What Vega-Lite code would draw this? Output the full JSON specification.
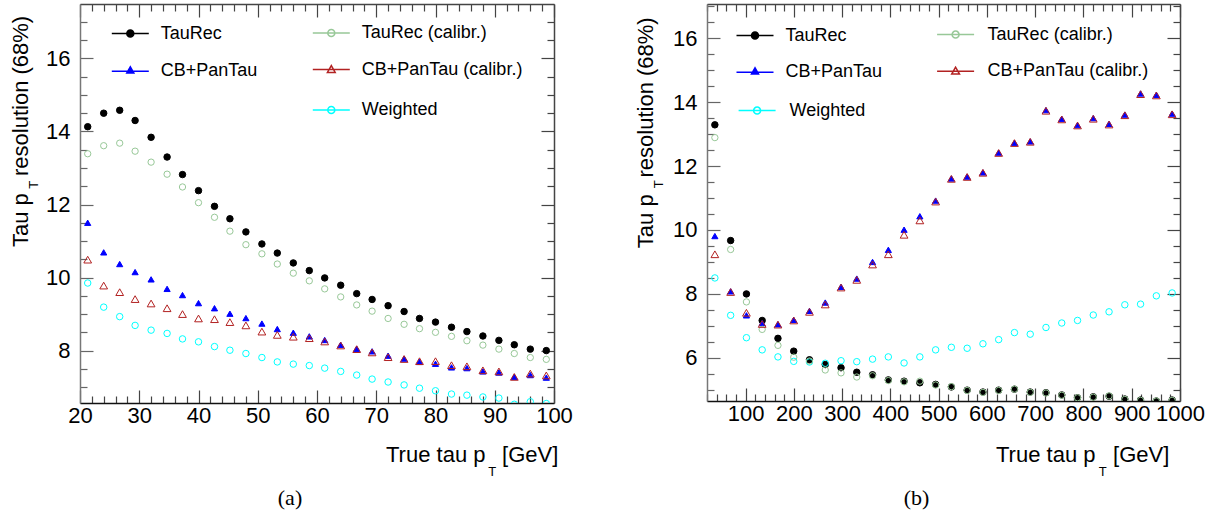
{
  "$schema": "https://vega.github.io/schema/vega-lite/v6.json",
  "background": "white",
  "padding": {"left": 9, "top": 3, "right": 5, "bottom": 5},
  "bounds": "flush",
  "spacing": 153,
  "config": {
    "view": {"stroke": null},
    "font": "Liberation Sans",
    "axis": {
      "grid": false,
      "labelFont": "Liberation Sans",
      "labelColor": "#000",
      "labelFlush": false,
      "labelOverlap": false,
      "labelBound": false,
      "titleFont": "Liberation Sans",
      "titleFontSize": 22,
      "titleFontWeight": "normal",
      "titleColor": "#000",
      "domainWidth": 1.5,
      "tickWidth": 1.2
    },
    "legend": {
      "orient": "none",
      "padding": 0,
      "symbolSize": 1369,
      "labelFont": "Liberation Sans",
      "labelFontSize": 18,
      "labelColor": "#000",
      "labelOffset": 11,
      "labelLimit": 300
    }
  },
  "datasets": {
    "a": [
      {"series": "TauRec", "pt": 21.3, "res": 14.13}, {"series": "TauRec", "pt": 24, "res": 14.5}, {"series": "TauRec", "pt": 26.7, "res": 14.58}, {"series": "TauRec", "pt": 29.3, "res": 14.3}, {"series": "TauRec", "pt": 32, "res": 13.84}, {"series": "TauRec", "pt": 34.7, "res": 13.3}, {"series": "TauRec", "pt": 37.3, "res": 12.82}, {"series": "TauRec", "pt": 40, "res": 12.38}, {"series": "TauRec", "pt": 42.7, "res": 11.95}, {"series": "TauRec", "pt": 45.3, "res": 11.61}, {"series": "TauRec", "pt": 48, "res": 11.25}, {"series": "TauRec", "pt": 50.7, "res": 10.92}, {"series": "TauRec", "pt": 53.3, "res": 10.67}, {"series": "TauRec", "pt": 56, "res": 10.4}, {"series": "TauRec", "pt": 58.7, "res": 10.19}, {"series": "TauRec", "pt": 61.3, "res": 9.99}, {"series": "TauRec", "pt": 64, "res": 9.79}, {"series": "TauRec", "pt": 66.7, "res": 9.56}, {"series": "TauRec", "pt": 69.3, "res": 9.4}, {"series": "TauRec", "pt": 72, "res": 9.23}, {"series": "TauRec", "pt": 74.7, "res": 9.07}, {"series": "TauRec", "pt": 77.3, "res": 8.88}, {"series": "TauRec", "pt": 80, "res": 8.78}, {"series": "TauRec", "pt": 82.7, "res": 8.64}, {"series": "TauRec", "pt": 85.3, "res": 8.52}, {"series": "TauRec", "pt": 88, "res": 8.4}, {"series": "TauRec", "pt": 90.7, "res": 8.28}, {"series": "TauRec", "pt": 93.3, "res": 8.16}, {"series": "TauRec", "pt": 96, "res": 8.04}, {"series": "TauRec", "pt": 98.7, "res": 8.0},
      {"series": "CB+PanTau", "pt": 21.3, "res": 11.5}, {"series": "CB+PanTau", "pt": 24, "res": 10.69}, {"series": "CB+PanTau", "pt": 26.7, "res": 10.37}, {"series": "CB+PanTau", "pt": 29.3, "res": 10.15}, {"series": "CB+PanTau", "pt": 32, "res": 9.95}, {"series": "CB+PanTau", "pt": 34.7, "res": 9.69}, {"series": "CB+PanTau", "pt": 37.3, "res": 9.52}, {"series": "CB+PanTau", "pt": 40, "res": 9.3}, {"series": "CB+PanTau", "pt": 42.7, "res": 9.16}, {"series": "CB+PanTau", "pt": 45.3, "res": 9.01}, {"series": "CB+PanTau", "pt": 48, "res": 8.89}, {"series": "CB+PanTau", "pt": 50.7, "res": 8.74}, {"series": "CB+PanTau", "pt": 53.3, "res": 8.59}, {"series": "CB+PanTau", "pt": 56, "res": 8.49}, {"series": "CB+PanTau", "pt": 58.7, "res": 8.39}, {"series": "CB+PanTau", "pt": 61.3, "res": 8.29}, {"series": "CB+PanTau", "pt": 64, "res": 8.16}, {"series": "CB+PanTau", "pt": 66.7, "res": 8.05}, {"series": "CB+PanTau", "pt": 69.3, "res": 7.98}, {"series": "CB+PanTau", "pt": 72, "res": 7.86}, {"series": "CB+PanTau", "pt": 74.7, "res": 7.78}, {"series": "CB+PanTau", "pt": 77.3, "res": 7.69}, {"series": "CB+PanTau", "pt": 80, "res": 7.64}, {"series": "CB+PanTau", "pt": 82.7, "res": 7.54}, {"series": "CB+PanTau", "pt": 85.3, "res": 7.52}, {"series": "CB+PanTau", "pt": 88, "res": 7.43}, {"series": "CB+PanTau", "pt": 90.7, "res": 7.4}, {"series": "CB+PanTau", "pt": 93.3, "res": 7.28}, {"series": "CB+PanTau", "pt": 96, "res": 7.33}, {"series": "CB+PanTau", "pt": 98.7, "res": 7.26},
      {"series": "TauRec (calibr.)", "pt": 21.3, "res": 13.39}, {"series": "TauRec (calibr.)", "pt": 24, "res": 13.61}, {"series": "TauRec (calibr.)", "pt": 26.7, "res": 13.68}, {"series": "TauRec (calibr.)", "pt": 29.3, "res": 13.46}, {"series": "TauRec (calibr.)", "pt": 32, "res": 13.16}, {"series": "TauRec (calibr.)", "pt": 34.7, "res": 12.83}, {"series": "TauRec (calibr.)", "pt": 37.3, "res": 12.48}, {"series": "TauRec (calibr.)", "pt": 40, "res": 12.05}, {"series": "TauRec (calibr.)", "pt": 42.7, "res": 11.65}, {"series": "TauRec (calibr.)", "pt": 45.3, "res": 11.27}, {"series": "TauRec (calibr.)", "pt": 48, "res": 10.9}, {"series": "TauRec (calibr.)", "pt": 50.7, "res": 10.65}, {"series": "TauRec (calibr.)", "pt": 53.3, "res": 10.37}, {"series": "TauRec (calibr.)", "pt": 56, "res": 10.12}, {"series": "TauRec (calibr.)", "pt": 58.7, "res": 9.91}, {"series": "TauRec (calibr.)", "pt": 61.3, "res": 9.69}, {"series": "TauRec (calibr.)", "pt": 64, "res": 9.47}, {"series": "TauRec (calibr.)", "pt": 66.7, "res": 9.25}, {"series": "TauRec (calibr.)", "pt": 69.3, "res": 9.08}, {"series": "TauRec (calibr.)", "pt": 72, "res": 8.88}, {"series": "TauRec (calibr.)", "pt": 74.7, "res": 8.72}, {"series": "TauRec (calibr.)", "pt": 77.3, "res": 8.6}, {"series": "TauRec (calibr.)", "pt": 80, "res": 8.5}, {"series": "TauRec (calibr.)", "pt": 82.7, "res": 8.39}, {"series": "TauRec (calibr.)", "pt": 85.3, "res": 8.27}, {"series": "TauRec (calibr.)", "pt": 88, "res": 8.15}, {"series": "TauRec (calibr.)", "pt": 90.7, "res": 8.04}, {"series": "TauRec (calibr.)", "pt": 93.3, "res": 7.92}, {"series": "TauRec (calibr.)", "pt": 96, "res": 7.81}, {"series": "TauRec (calibr.)", "pt": 98.7, "res": 7.76},
      {"series": "CB+PanTau (calibr.)", "pt": 21.3, "res": 10.49}, {"series": "CB+PanTau (calibr.)", "pt": 24, "res": 9.78}, {"series": "CB+PanTau (calibr.)", "pt": 26.7, "res": 9.6}, {"series": "CB+PanTau (calibr.)", "pt": 29.3, "res": 9.41}, {"series": "CB+PanTau (calibr.)", "pt": 32, "res": 9.29}, {"series": "CB+PanTau (calibr.)", "pt": 34.7, "res": 9.16}, {"series": "CB+PanTau (calibr.)", "pt": 37.3, "res": 9.0}, {"series": "CB+PanTau (calibr.)", "pt": 40, "res": 8.88}, {"series": "CB+PanTau (calibr.)", "pt": 42.7, "res": 8.86}, {"series": "CB+PanTau (calibr.)", "pt": 45.3, "res": 8.78}, {"series": "CB+PanTau (calibr.)", "pt": 48, "res": 8.69}, {"series": "CB+PanTau (calibr.)", "pt": 50.7, "res": 8.52}, {"series": "CB+PanTau (calibr.)", "pt": 53.3, "res": 8.43}, {"series": "CB+PanTau (calibr.)", "pt": 56, "res": 8.38}, {"series": "CB+PanTau (calibr.)", "pt": 58.7, "res": 8.34}, {"series": "CB+PanTau (calibr.)", "pt": 61.3, "res": 8.25}, {"series": "CB+PanTau (calibr.)", "pt": 64, "res": 8.14}, {"series": "CB+PanTau (calibr.)", "pt": 66.7, "res": 8.04}, {"series": "CB+PanTau (calibr.)", "pt": 69.3, "res": 7.95}, {"series": "CB+PanTau (calibr.)", "pt": 72, "res": 7.82}, {"series": "CB+PanTau (calibr.)", "pt": 74.7, "res": 7.77}, {"series": "CB+PanTau (calibr.)", "pt": 77.3, "res": 7.71}, {"series": "CB+PanTau (calibr.)", "pt": 80, "res": 7.71}, {"series": "CB+PanTau (calibr.)", "pt": 82.7, "res": 7.6}, {"series": "CB+PanTau (calibr.)", "pt": 85.3, "res": 7.57}, {"series": "CB+PanTau (calibr.)", "pt": 88, "res": 7.46}, {"series": "CB+PanTau (calibr.)", "pt": 90.7, "res": 7.43}, {"series": "CB+PanTau (calibr.)", "pt": 93.3, "res": 7.28}, {"series": "CB+PanTau (calibr.)", "pt": 96, "res": 7.37}, {"series": "CB+PanTau (calibr.)", "pt": 98.7, "res": 7.32},
      {"series": "Weighted", "pt": 21.3, "res": 9.85}, {"series": "Weighted", "pt": 24, "res": 9.19}, {"series": "Weighted", "pt": 26.7, "res": 8.93}, {"series": "Weighted", "pt": 29.3, "res": 8.69}, {"series": "Weighted", "pt": 32, "res": 8.56}, {"series": "Weighted", "pt": 34.7, "res": 8.47}, {"series": "Weighted", "pt": 37.3, "res": 8.32}, {"series": "Weighted", "pt": 40, "res": 8.24}, {"series": "Weighted", "pt": 42.7, "res": 8.11}, {"series": "Weighted", "pt": 45.3, "res": 8.01}, {"series": "Weighted", "pt": 48, "res": 7.92}, {"series": "Weighted", "pt": 50.7, "res": 7.81}, {"series": "Weighted", "pt": 53.3, "res": 7.69}, {"series": "Weighted", "pt": 56, "res": 7.63}, {"series": "Weighted", "pt": 58.7, "res": 7.59}, {"series": "Weighted", "pt": 61.3, "res": 7.52}, {"series": "Weighted", "pt": 64, "res": 7.43}, {"series": "Weighted", "pt": 66.7, "res": 7.33}, {"series": "Weighted", "pt": 69.3, "res": 7.22}, {"series": "Weighted", "pt": 72, "res": 7.14}, {"series": "Weighted", "pt": 74.7, "res": 7.06}, {"series": "Weighted", "pt": 77.3, "res": 6.97}, {"series": "Weighted", "pt": 80, "res": 6.9}, {"series": "Weighted", "pt": 82.7, "res": 6.81}, {"series": "Weighted", "pt": 85.3, "res": 6.78}, {"series": "Weighted", "pt": 88, "res": 6.73}, {"series": "Weighted", "pt": 90.7, "res": 6.7}, {"series": "Weighted", "pt": 93.3, "res": 6.53}, {"series": "Weighted", "pt": 96, "res": 6.6}, {"series": "Weighted", "pt": 98.7, "res": 6.55}
    ],
    "b": [
      {"series": "TauRec", "pt": 36.3, "res": 13.29}, {"series": "TauRec", "pt": 69, "res": 9.67}, {"series": "TauRec", "pt": 101.7, "res": 8.0}, {"series": "TauRec", "pt": 134.3, "res": 7.17}, {"series": "TauRec", "pt": 167, "res": 6.61}, {"series": "TauRec", "pt": 199.7, "res": 6.21}, {"series": "TauRec", "pt": 232.3, "res": 5.94}, {"series": "TauRec", "pt": 265, "res": 5.79}, {"series": "TauRec", "pt": 297.7, "res": 5.69}, {"series": "TauRec", "pt": 330.3, "res": 5.55}, {"series": "TauRec", "pt": 363, "res": 5.47}, {"series": "TauRec", "pt": 395.7, "res": 5.31}, {"series": "TauRec", "pt": 428.3, "res": 5.27}, {"series": "TauRec", "pt": 461, "res": 5.22}, {"series": "TauRec", "pt": 493.7, "res": 5.17}, {"series": "TauRec", "pt": 526.3, "res": 5.09}, {"series": "TauRec", "pt": 559, "res": 4.99}, {"series": "TauRec", "pt": 591.7, "res": 4.93}, {"series": "TauRec", "pt": 624.3, "res": 4.99}, {"series": "TauRec", "pt": 657, "res": 5.02}, {"series": "TauRec", "pt": 689.7, "res": 4.93}, {"series": "TauRec", "pt": 722.3, "res": 4.91}, {"series": "TauRec", "pt": 755, "res": 4.84}, {"series": "TauRec", "pt": 787.7, "res": 4.75}, {"series": "TauRec", "pt": 820.3, "res": 4.78}, {"series": "TauRec", "pt": 853, "res": 4.8}, {"series": "TauRec", "pt": 885.7, "res": 4.71}, {"series": "TauRec", "pt": 918.3, "res": 4.68}, {"series": "TauRec", "pt": 951, "res": 4.65}, {"series": "TauRec", "pt": 983.7, "res": 4.68},
      {"series": "CB+PanTau", "pt": 36.3, "res": 9.81}, {"series": "CB+PanTau", "pt": 69, "res": 8.08}, {"series": "CB+PanTau", "pt": 101.7, "res": 7.33}, {"series": "CB+PanTau", "pt": 134.3, "res": 7.09}, {"series": "CB+PanTau", "pt": 167, "res": 7.05}, {"series": "CB+PanTau", "pt": 199.7, "res": 7.19}, {"series": "CB+PanTau", "pt": 232.3, "res": 7.47}, {"series": "CB+PanTau", "pt": 265, "res": 7.73}, {"series": "CB+PanTau", "pt": 297.7, "res": 8.22}, {"series": "CB+PanTau", "pt": 330.3, "res": 8.48}, {"series": "CB+PanTau", "pt": 363, "res": 9.0}, {"series": "CB+PanTau", "pt": 395.7, "res": 9.38}, {"series": "CB+PanTau", "pt": 428.3, "res": 10.01}, {"series": "CB+PanTau", "pt": 461, "res": 10.43}, {"series": "CB+PanTau", "pt": 493.7, "res": 10.92}, {"series": "CB+PanTau", "pt": 526.3, "res": 11.61}, {"series": "CB+PanTau", "pt": 559, "res": 11.67}, {"series": "CB+PanTau", "pt": 591.7, "res": 11.8}, {"series": "CB+PanTau", "pt": 624.3, "res": 12.42}, {"series": "CB+PanTau", "pt": 657, "res": 12.73}, {"series": "CB+PanTau", "pt": 689.7, "res": 12.77}, {"series": "CB+PanTau", "pt": 722.3, "res": 13.75}, {"series": "CB+PanTau", "pt": 755, "res": 13.48}, {"series": "CB+PanTau", "pt": 787.7, "res": 13.28}, {"series": "CB+PanTau", "pt": 820.3, "res": 13.5}, {"series": "CB+PanTau", "pt": 853, "res": 13.32}, {"series": "CB+PanTau", "pt": 885.7, "res": 13.61}, {"series": "CB+PanTau", "pt": 918.3, "res": 14.27}, {"series": "CB+PanTau", "pt": 951, "res": 14.23}, {"series": "CB+PanTau", "pt": 983.7, "res": 13.64},
      {"series": "Weighted", "pt": 36.3, "res": 8.5}, {"series": "Weighted", "pt": 69, "res": 7.33}, {"series": "Weighted", "pt": 101.7, "res": 6.63}, {"series": "Weighted", "pt": 134.3, "res": 6.25}, {"series": "Weighted", "pt": 167, "res": 6.03}, {"series": "Weighted", "pt": 199.7, "res": 5.89}, {"series": "Weighted", "pt": 232.3, "res": 5.87}, {"series": "Weighted", "pt": 265, "res": 5.83}, {"series": "Weighted", "pt": 297.7, "res": 5.91}, {"series": "Weighted", "pt": 330.3, "res": 5.88}, {"series": "Weighted", "pt": 363, "res": 5.96}, {"series": "Weighted", "pt": 395.7, "res": 6.03}, {"series": "Weighted", "pt": 428.3, "res": 5.84}, {"series": "Weighted", "pt": 461, "res": 6.03}, {"series": "Weighted", "pt": 493.7, "res": 6.25}, {"series": "Weighted", "pt": 526.3, "res": 6.33}, {"series": "Weighted", "pt": 559, "res": 6.3}, {"series": "Weighted", "pt": 591.7, "res": 6.44}, {"series": "Weighted", "pt": 624.3, "res": 6.57}, {"series": "Weighted", "pt": 657, "res": 6.79}, {"series": "Weighted", "pt": 689.7, "res": 6.74}, {"series": "Weighted", "pt": 722.3, "res": 6.95}, {"series": "Weighted", "pt": 755, "res": 7.09}, {"series": "Weighted", "pt": 787.7, "res": 7.17}, {"series": "Weighted", "pt": 820.3, "res": 7.34}, {"series": "Weighted", "pt": 853, "res": 7.44}, {"series": "Weighted", "pt": 885.7, "res": 7.66}, {"series": "Weighted", "pt": 918.3, "res": 7.68}, {"series": "Weighted", "pt": 951, "res": 7.94}, {"series": "Weighted", "pt": 983.7, "res": 8.03},
      {"series": "TauRec (calibr.)", "pt": 36.3, "res": 12.89}, {"series": "TauRec (calibr.)", "pt": 69, "res": 9.39}, {"series": "TauRec (calibr.)", "pt": 101.7, "res": 7.75}, {"series": "TauRec (calibr.)", "pt": 134.3, "res": 6.89}, {"series": "TauRec (calibr.)", "pt": 167, "res": 6.39}, {"series": "TauRec (calibr.)", "pt": 199.7, "res": 6.02}, {"series": "TauRec (calibr.)", "pt": 232.3, "res": 5.9}, {"series": "TauRec (calibr.)", "pt": 265, "res": 5.62}, {"series": "TauRec (calibr.)", "pt": 297.7, "res": 5.53}, {"series": "TauRec (calibr.)", "pt": 330.3, "res": 5.4}, {"series": "TauRec (calibr.)", "pt": 363, "res": 5.44}, {"series": "TauRec (calibr.)", "pt": 395.7, "res": 5.29}, {"series": "TauRec (calibr.)", "pt": 428.3, "res": 5.25}, {"series": "TauRec (calibr.)", "pt": 461, "res": 5.27}, {"series": "TauRec (calibr.)", "pt": 493.7, "res": 5.15}, {"series": "TauRec (calibr.)", "pt": 526.3, "res": 5.1}, {"series": "TauRec (calibr.)", "pt": 559, "res": 4.98}, {"series": "TauRec (calibr.)", "pt": 591.7, "res": 4.92}, {"series": "TauRec (calibr.)", "pt": 624.3, "res": 4.98}, {"series": "TauRec (calibr.)", "pt": 657, "res": 5.02}, {"series": "TauRec (calibr.)", "pt": 689.7, "res": 4.92}, {"series": "TauRec (calibr.)", "pt": 722.3, "res": 4.9}, {"series": "TauRec (calibr.)", "pt": 755, "res": 4.83}, {"series": "TauRec (calibr.)", "pt": 787.7, "res": 4.75}, {"series": "TauRec (calibr.)", "pt": 820.3, "res": 4.77}, {"series": "TauRec (calibr.)", "pt": 853, "res": 4.81}, {"series": "TauRec (calibr.)", "pt": 885.7, "res": 4.7}, {"series": "TauRec (calibr.)", "pt": 918.3, "res": 4.67}, {"series": "TauRec (calibr.)", "pt": 951, "res": 4.65}, {"series": "TauRec (calibr.)", "pt": 983.7, "res": 4.67},
      {"series": "CB+PanTau (calibr.)", "pt": 36.3, "res": 9.24}, {"series": "CB+PanTau (calibr.)", "pt": 69, "res": 8.06}, {"series": "CB+PanTau (calibr.)", "pt": 101.7, "res": 7.41}, {"series": "CB+PanTau (calibr.)", "pt": 134.3, "res": 7.06}, {"series": "CB+PanTau (calibr.)", "pt": 167, "res": 7.04}, {"series": "CB+PanTau (calibr.)", "pt": 199.7, "res": 7.17}, {"series": "CB+PanTau (calibr.)", "pt": 232.3, "res": 7.44}, {"series": "CB+PanTau (calibr.)", "pt": 265, "res": 7.67}, {"series": "CB+PanTau (calibr.)", "pt": 297.7, "res": 8.2}, {"series": "CB+PanTau (calibr.)", "pt": 330.3, "res": 8.44}, {"series": "CB+PanTau (calibr.)", "pt": 363, "res": 8.92}, {"series": "CB+PanTau (calibr.)", "pt": 395.7, "res": 9.24}, {"series": "CB+PanTau (calibr.)", "pt": 428.3, "res": 9.85}, {"series": "CB+PanTau (calibr.)", "pt": 461, "res": 10.3}, {"series": "CB+PanTau (calibr.)", "pt": 493.7, "res": 10.89}, {"series": "CB+PanTau (calibr.)", "pt": 526.3, "res": 11.6}, {"series": "CB+PanTau (calibr.)", "pt": 559, "res": 11.66}, {"series": "CB+PanTau (calibr.)", "pt": 591.7, "res": 11.79}, {"series": "CB+PanTau (calibr.)", "pt": 624.3, "res": 12.41}, {"series": "CB+PanTau (calibr.)", "pt": 657, "res": 12.72}, {"series": "CB+PanTau (calibr.)", "pt": 689.7, "res": 12.76}, {"series": "CB+PanTau (calibr.)", "pt": 722.3, "res": 13.73}, {"series": "CB+PanTau (calibr.)", "pt": 755, "res": 13.46}, {"series": "CB+PanTau (calibr.)", "pt": 787.7, "res": 13.27}, {"series": "CB+PanTau (calibr.)", "pt": 820.3, "res": 13.48}, {"series": "CB+PanTau (calibr.)", "pt": 853, "res": 13.3}, {"series": "CB+PanTau (calibr.)", "pt": 885.7, "res": 13.59}, {"series": "CB+PanTau (calibr.)", "pt": 918.3, "res": 14.25}, {"series": "CB+PanTau (calibr.)", "pt": 951, "res": 14.21}, {"series": "CB+PanTau (calibr.)", "pt": 983.7, "res": 13.62}
    ]
  },
  "hconcat": [
    {
      "width": 474,
      "height": 399,
      "data": {"name": "a"},
      "title": {"text": "(a)", "orient": "bottom", "anchor": "middle", "frame": "group", "font": "Liberation Serif", "fontSize": 22, "fontWeight": "normal", "color": "#000", "dx": -27, "offset": 10},
      "resolve": {"scale": {"stroke": "independent"}, "axis": {"x": "independent", "y": "independent"}},
      "layer": [
        {
          "transform": [{"filter": {"field": "series", "equal": "TauRec"}}],
          "mark": {"type": "point", "shape": "circle", "filled": true, "fill": "#000000", "size": 42, "strokeWidth": 1, "opacity": 1, "clip": true},
          "encoding": {
            "x": {
              "field": "pt", "type": "quantitative",
              "scale": {"domain": [20, 100], "nice": false, "zero": false},
              "axis": {
                "orient": "bottom",
                "values": [20,22,24,26,28,30,32,34,36,38,40,42,44,46,48,50,52,54,56,58,60,62,64,66,68,70,72,74,76,78,80,82,84,86,88,90,92,94,96,98,100],
                "labelExpr": "datum.value % 10 === 0 ? format(datum.value, 'd') : ''",
                "labelFontSize": {"condition": {"test": "datum.value % 10 === 0", "value": 22}, "value": 0},
                "tickSize": {"condition": {"test": "datum.value % 10 === 0", "value": -13}, "value": -7},
                "labelPadding": 15,
                "domainColor": "#111", "tickColor": "#444",
                "title": "True tau p",
                "titleAlign": "left", "titleBaseline": "alphabetic", "titleX": 305.5, "titleY": 58
              }
            },
            "y": {
              "field": "res", "type": "quantitative",
              "scale": {"domain": [6.565, 17.49], "nice": false, "zero": false},
              "axis": {
                "orient": "left",
                "values": [7,7.5,8,8.5,9,9.5,10,10.5,11,11.5,12,12.5,13,13.5,14,14.5,15,15.5,16,16.5,17],
                "labelExpr": "datum.value % 2 === 0 ? format(datum.value, 'd') : ''",
                "labelFontSize": {"condition": {"test": "datum.value % 2 === 0", "value": 22}, "value": 0},
                "tickSize": {"condition": {"test": "datum.value % 2 === 0", "value": -13}, "value": -7},
                "labelPadding": 23,
                "domainColor": "#777", "tickColor": "#666",
                "title": "Tau p",
                "titleAngle": 270, "titleAlign": "left", "titleBaseline": "alphabetic", "titleX": -52.3, "titleY": 242.5
              }
            },
            "stroke": {
              "field": "series", "type": "nominal",
              "scale": {"domain": ["TauRec"], "range": ["#000000"]},
              "legend": {
                "title": null, "legendX": 30.8, "legendY": 10.1,
                "symbolType": "M-1,0H1M-0.19,0A0.19,0.19,0,1,0,0.19,0A0.19,0.19,0,1,0,-0.19,0Z",
                "encode": {"symbols": {"shape": {"value": "M-1,0H1M-0.19,0A0.19,0.19,0,1,0,0.19,0A0.19,0.19,0,1,0,-0.19,0Z"}, "fill": {"value": "#000000"}, "stroke": {"value": "#000000"}, "strokeWidth": {"value": 1.8}, "opacity": {"value": 1}}}
              }
            }
          }
        },
        {
          "transform": [{"filter": {"field": "series", "equal": "CB+PanTau"}}],
          "mark": {"type": "point", "shape": "triangle-up", "filled": true, "fill": "#0000ff", "size": 38, "strokeWidth": 1, "opacity": 1, "clip": true},
          "encoding": {
            "x": {
              "field": "pt", "type": "quantitative",
              "axis": {
                "orient": "top",
                "values": [20,22,24,26,28,30,32,34,36,38,40,42,44,46,48,50,52,54,56,58,60,62,64,66,68,70,72,74,76,78,80,82,84,86,88,90,92,94,96,98,100],
                "labels": false,
                "tickSize": {"condition": {"test": "datum.value % 10 === 0", "value": -13}, "value": -7},
                "domainColor": "#444", "tickColor": "#444",
                "title": "T", "titleFontSize": 13, "titleAngle": 0,
                "titleAlign": "left", "titleBaseline": "alphabetic", "titleX": 407.7, "titleY": 471
              }
            },
            "y": {
              "field": "res", "type": "quantitative",
              "axis": {
                "orient": "right",
                "values": [7,7.5,8,8.5,9,9.5,10,10.5,11,11.5,12,12.5,13,13.5,14,14.5,15,15.5,16,16.5,17],
                "labels": false,
                "tickSize": {"condition": {"test": "datum.value % 2 === 0", "value": -13}, "value": -7},
                "domainColor": "#444", "tickColor": "#444",
                "title": "T", "titleFontSize": 13, "titleAngle": 270,
                "titleAlign": "left", "titleBaseline": "alphabetic", "titleX": -517, "titleY": 184.3
              }
            },
            "stroke": {
              "field": "series", "type": "nominal",
              "scale": {"domain": ["CB+PanTau"], "range": ["#0000ff"]},
              "legend": {
                "title": null, "legendX": 30.8, "legendY": 47.8,
                "symbolType": "M-1,0H1M0,-0.24L-0.19,0.09L0.19,0.09Z",
                "encode": {"symbols": {"shape": {"value": "M-1,0H1M0,-0.24L-0.19,0.09L0.19,0.09Z"}, "fill": {"value": "#0000ff"}, "stroke": {"value": "#0000ff"}, "strokeWidth": {"value": 1.8}, "opacity": {"value": 1}}}
              }
            }
          }
        },
        {
          "transform": [{"filter": {"field": "series", "equal": "TauRec (calibr.)"}}],
          "mark": {"type": "point", "shape": "circle", "filled": false, "fill": "transparent", "size": 40, "strokeWidth": 1, "opacity": 1, "clip": true},
          "encoding": {
            "x": {
              "field": "pt", "type": "quantitative",
              "axis": {
                "orient": "bottom", "domain": false, "ticks": false, "labels": false,
                "title": "[GeV]",
                "titleAlign": "left", "titleBaseline": "alphabetic", "titleX": 421.6, "titleY": 58
              }
            },
            "y": {
              "field": "res", "type": "quantitative",
              "axis": {
                "orient": "left", "domain": false, "ticks": false, "labels": false,
                "title": "resolution (68%)",
                "titleAngle": 270, "titleAlign": "left", "titleBaseline": "alphabetic", "titleX": -52.3, "titleY": 171.5
              }
            },
            "stroke": {
              "field": "series", "type": "nominal",
              "scale": {"domain": ["TauRec (calibr.)"], "range": ["#98c898"]},
              "legend": {
                "title": null, "legendX": 231.8, "legendY": 9.5,
                "symbolType": "M-1,0H1M-0.19,0A0.19,0.19,0,1,0,0.19,0A0.19,0.19,0,1,0,-0.19,0Z",
                "encode": {"symbols": {"shape": {"value": "M-1,0H1M-0.19,0A0.19,0.19,0,1,0,0.19,0A0.19,0.19,0,1,0,-0.19,0Z"}, "fill": {"value": "transparent"}, "stroke": {"value": "#98c898"}, "strokeWidth": {"value": 1.8}, "opacity": {"value": 1}}}
              }
            }
          }
        },
        {
          "transform": [{"filter": {"field": "series", "equal": "CB+PanTau (calibr.)"}}],
          "mark": {"type": "point", "shape": "triangle-up", "filled": false, "fill": "transparent", "size": 60, "strokeWidth": 1, "opacity": 1, "clip": true},
          "encoding": {
            "x": {"field": "pt", "type": "quantitative", "axis": null},
            "y": {"field": "res", "type": "quantitative", "axis": null},
            "stroke": {
              "field": "series", "type": "nominal",
              "scale": {"domain": ["CB+PanTau (calibr.)"], "range": ["#b22222"]},
              "legend": {
                "title": null, "legendX": 231.8, "legendY": 46.1,
                "symbolType": "M-1,0H1M0,-0.22L-0.21,0.15L0.21,0.15Z",
                "encode": {"symbols": {"shape": {"value": "M-1,0H1M0,-0.22L-0.21,0.15L0.21,0.15Z"}, "fill": {"value": "transparent"}, "stroke": {"value": "#b22222"}, "strokeWidth": {"value": 1.8}, "opacity": {"value": 1}}}
              }
            }
          }
        },
        {
          "transform": [{"filter": {"field": "series", "equal": "Weighted"}}],
          "mark": {"type": "point", "shape": "circle", "filled": false, "fill": "transparent", "size": 42, "strokeWidth": 1, "opacity": 1, "clip": true},
          "encoding": {
            "x": {"field": "pt", "type": "quantitative", "axis": null},
            "y": {"field": "res", "type": "quantitative", "axis": null},
            "stroke": {
              "field": "series", "type": "nominal",
              "scale": {"domain": ["Weighted"], "range": ["#00ffff"]},
              "legend": {
                "title": null, "legendX": 231.8, "legendY": 86.5,
                "symbolType": "M-1,0H1M-0.19,0A0.19,0.19,0,1,0,0.19,0A0.19,0.19,0,1,0,-0.19,0Z",
                "encode": {"symbols": {"shape": {"value": "M-1,0H1M-0.19,0A0.19,0.19,0,1,0,0.19,0A0.19,0.19,0,1,0,-0.19,0Z"}, "fill": {"value": "transparent"}, "stroke": {"value": "#00ffff"}, "strokeWidth": {"value": 1.8}, "opacity": {"value": 1}}}
              }
            }
          }
        }
      ]
    },
    {
      "width": 473,
      "height": 397,
      "data": {"name": "b"},
      "title": {"text": "(b)", "orient": "bottom", "anchor": "middle", "frame": "group", "font": "Liberation Serif", "fontSize": 22, "fontWeight": "normal", "color": "#000", "dx": -27, "offset": 10},
      "resolve": {"scale": {"stroke": "independent"}, "axis": {"x": "independent", "y": "independent"}},
      "layer": [
        {
          "transform": [{"filter": {"field": "series", "equal": "TauRec"}}],
          "mark": {"type": "point", "shape": "circle", "filled": true, "fill": "#000000", "size": 42, "strokeWidth": 1, "opacity": 1, "clip": true},
          "encoding": {
            "x": {
              "field": "pt", "type": "quantitative",
              "scale": {"domain": [20, 1000], "nice": false, "zero": false},
              "axis": {
                "orient": "bottom",
                "values": [20,40,60,80,100,120,140,160,180,200,220,240,260,280,300,320,340,360,380,400,420,440,460,480,500,520,540,560,580,600,620,640,660,680,700,720,740,760,780,800,820,840,860,880,900,920,940,960,980,1000],
                "labelExpr": "datum.value % 100 === 0 ? format(datum.value, 'd') : ''",
                "labelFontSize": {"condition": {"test": "datum.value % 100 === 0", "value": 22}, "value": 0},
                "tickSize": {"condition": {"test": "datum.value % 100 === 0", "value": -13}, "value": -7},
                "labelPadding": 15,
                "domainColor": "#111", "tickColor": "#444",
                "title": "True tau p",
                "titleAlign": "left", "titleBaseline": "alphabetic", "titleX": 288.5, "titleY": 60
              }
            },
            "y": {
              "field": "res", "type": "quantitative",
              "scale": {"domain": [4.65, 17.07], "nice": false, "zero": false},
              "axis": {
                "orient": "left",
                "values": [5,5.5,6,6.5,7,7.5,8,8.5,9,9.5,10,10.5,11,11.5,12,12.5,13,13.5,14,14.5,15,15.5,16,16.5,17],
                "labelExpr": "datum.value % 2 === 0 ? format(datum.value, 'd') : ''",
                "labelFontSize": {"condition": {"test": "datum.value % 2 === 0", "value": 22}, "value": 0},
                "tickSize": {"condition": {"test": "datum.value % 2 === 0", "value": -13}, "value": -7},
                "labelPadding": 23,
                "domainColor": "#777", "tickColor": "#666",
                "title": "Tau p",
                "titleAngle": 270, "titleAlign": "left", "titleBaseline": "alphabetic", "titleX": -55, "titleY": 243.7
              }
            },
            "stroke": {
              "field": "series", "type": "nominal",
              "scale": {"domain": ["TauRec"], "range": ["#000000"]},
              "legend": {
                "title": null, "legendX": 28.5, "legendY": 12.1,
                "symbolType": "M-1,0H1M-0.19,0A0.19,0.19,0,1,0,0.19,0A0.19,0.19,0,1,0,-0.19,0Z",
                "encode": {"symbols": {"shape": {"value": "M-1,0H1M-0.19,0A0.19,0.19,0,1,0,0.19,0A0.19,0.19,0,1,0,-0.19,0Z"}, "fill": {"value": "#000000"}, "stroke": {"value": "#000000"}, "strokeWidth": {"value": 1.8}, "opacity": {"value": 1}}}
              }
            }
          }
        },
        {
          "transform": [{"filter": {"field": "series", "equal": "CB+PanTau"}}],
          "mark": {"type": "point", "shape": "triangle-up", "filled": true, "fill": "#0000ff", "size": 38, "strokeWidth": 1, "opacity": 1, "clip": true},
          "encoding": {
            "x": {
              "field": "pt", "type": "quantitative",
              "axis": {
                "orient": "top",
                "values": [20,40,60,80,100,120,140,160,180,200,220,240,260,280,300,320,340,360,380,400,420,440,460,480,500,520,540,560,580,600,620,640,660,680,700,720,740,760,780,800,820,840,860,880,900,920,940,960,980,1000],
                "labels": false,
                "tickSize": {"condition": {"test": "datum.value % 100 === 0", "value": -13}, "value": -7},
                "domainColor": "#444", "tickColor": "#444",
                "title": "T", "titleFontSize": 13, "titleAngle": 0,
                "titleAlign": "left", "titleBaseline": "alphabetic", "titleX": 391.3, "titleY": 471
              }
            },
            "y": {
              "field": "res", "type": "quantitative",
              "axis": {
                "orient": "right",
                "values": [5,5.5,6,6.5,7,7.5,8,8.5,9,9.5,10,10.5,11,11.5,12,12.5,13,13.5,14,14.5,15,15.5,16,16.5,17],
                "labels": false,
                "tickSize": {"condition": {"test": "datum.value % 2 === 0", "value": -13}, "value": -7},
                "domainColor": "#444", "tickColor": "#444",
                "title": "T", "titleFontSize": 13, "titleAngle": 270,
                "titleAlign": "left", "titleBaseline": "alphabetic", "titleX": -517.5, "titleY": 183.7
              }
            },
            "stroke": {
              "field": "series", "type": "nominal",
              "scale": {"domain": ["CB+PanTau"], "range": ["#0000ff"]},
              "legend": {
                "title": null, "legendX": 28.5, "legendY": 48.8,
                "symbolType": "M-1,0H1M0,-0.24L-0.19,0.09L0.19,0.09Z",
                "encode": {"symbols": {"shape": {"value": "M-1,0H1M0,-0.24L-0.19,0.09L0.19,0.09Z"}, "fill": {"value": "#0000ff"}, "stroke": {"value": "#0000ff"}, "strokeWidth": {"value": 1.8}, "opacity": {"value": 1}}}
              }
            }
          }
        },
        {
          "transform": [{"filter": {"field": "series", "equal": "Weighted"}}],
          "mark": {"type": "point", "shape": "circle", "filled": false, "fill": "transparent", "size": 42, "strokeWidth": 1, "opacity": 1, "clip": true},
          "encoding": {
            "x": {
              "field": "pt", "type": "quantitative",
              "axis": {
                "orient": "bottom", "domain": false, "ticks": false, "labels": false,
                "title": "[GeV]",
                "titleAlign": "left", "titleBaseline": "alphabetic", "titleX": 405.6, "titleY": 60
              }
            },
            "y": {
              "field": "res", "type": "quantitative",
              "axis": {
                "orient": "left", "domain": false, "ticks": false, "labels": false,
                "title": "resolution (68%)",
                "titleAngle": 270, "titleAlign": "left", "titleBaseline": "alphabetic", "titleX": -55, "titleY": 173
              }
            },
            "stroke": {
              "field": "series", "type": "nominal",
              "scale": {"domain": ["Weighted"], "range": ["#00ffff"]},
              "legend": {
                "title": null, "legendX": 30.6, "legendY": 87.1, "labelOffset": 12.9,
                "symbolType": "M-1,0H1M-0.19,0A0.19,0.19,0,1,0,0.19,0A0.19,0.19,0,1,0,-0.19,0Z",
                "encode": {"symbols": {"shape": {"value": "M-1,0H1M-0.19,0A0.19,0.19,0,1,0,0.19,0A0.19,0.19,0,1,0,-0.19,0Z"}, "fill": {"value": "transparent"}, "stroke": {"value": "#00ffff"}, "strokeWidth": {"value": 1.8}, "opacity": {"value": 1}}}
              }
            }
          }
        },
        {
          "transform": [{"filter": {"field": "series", "equal": "TauRec (calibr.)"}}],
          "mark": {"type": "point", "shape": "circle", "filled": false, "fill": "transparent", "size": 40, "strokeWidth": 1, "opacity": 1, "clip": true},
          "encoding": {
            "x": {"field": "pt", "type": "quantitative", "axis": null},
            "y": {"field": "res", "type": "quantitative", "axis": null},
            "stroke": {
              "field": "series", "type": "nominal",
              "scale": {"domain": ["TauRec (calibr.)"], "range": ["#98c898"]},
              "legend": {
                "title": null, "legendX": 229.1, "legendY": 11.1, "labelOffset": 12.5,
                "symbolType": "M-1,0H1M-0.19,0A0.19,0.19,0,1,0,0.19,0A0.19,0.19,0,1,0,-0.19,0Z",
                "encode": {"symbols": {"shape": {"value": "M-1,0H1M-0.19,0A0.19,0.19,0,1,0,0.19,0A0.19,0.19,0,1,0,-0.19,0Z"}, "fill": {"value": "transparent"}, "stroke": {"value": "#98c898"}, "strokeWidth": {"value": 1.8}, "opacity": {"value": 1}}}
              }
            }
          }
        },
        {
          "transform": [{"filter": {"field": "series", "equal": "CB+PanTau (calibr.)"}}],
          "mark": {"type": "point", "shape": "triangle-up", "filled": false, "fill": "transparent", "size": 60, "strokeWidth": 1, "opacity": 1, "clip": true},
          "encoding": {
            "x": {"field": "pt", "type": "quantitative", "axis": null},
            "y": {"field": "res", "type": "quantitative", "axis": null},
            "stroke": {
              "field": "series", "type": "nominal",
              "scale": {"domain": ["CB+PanTau (calibr.)"], "range": ["#b22222"]},
              "legend": {
                "title": null, "legendX": 229.1, "legendY": 47.8, "labelOffset": 12.5,
                "symbolType": "M-1,0H1M0,-0.22L-0.21,0.15L0.21,0.15Z",
                "encode": {"symbols": {"shape": {"value": "M-1,0H1M0,-0.22L-0.21,0.15L0.21,0.15Z"}, "fill": {"value": "transparent"}, "stroke": {"value": "#b22222"}, "strokeWidth": {"value": 1.8}, "opacity": {"value": 1}}}
              }
            }
          }
        }
      ]
    }
  ]
}
